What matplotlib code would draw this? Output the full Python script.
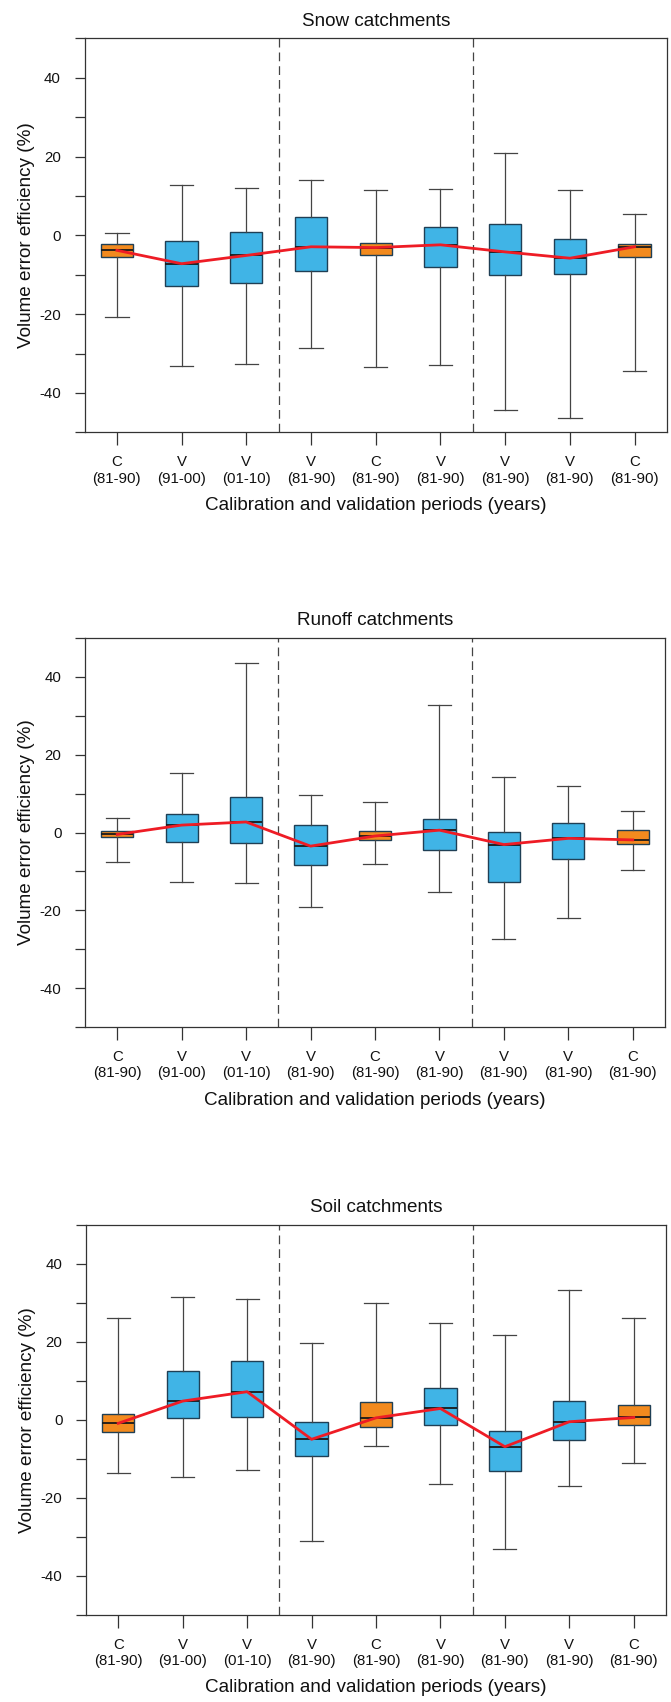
import matplotlib
matplotlib.use("Agg")
import matplotlib.pyplot as plt
from matplotlib.ticker import FuncFormatter

plt.rcParams["font.family"] = ["Liberation Sans", "DejaVu Sans"]

# x categories (C = calibration, V = validation)
kinds = ["C", "V", "V", "V", "C", "V", "V", "V", "C"]
periods = ["81-90", "91-00", "01-10", "81-90", "81-90", "81-90", "81-90", "81-90", "81-90"]
x_tick_labels = [f"{k}\n({p})" for k, p in zip(kinds, periods)]

# Snow catchments
snow_whislo = [-20.6, -33.1, -32.7, -28.5, -33.4, -32.9, -44.4, -46.4, -34.4]
snow_q1 = [-5.5, -12.9, -12.2, -9.1, -5.1, -8.0, -10.0, -9.8, -5.5]
snow_med = [-3.8, -7.2, -5.1, -2.9, -3.1, -2.4, -4.2, -5.8, -2.9]
snow_q3 = [-2.3, -1.5, 0.8, 4.7, -1.9, 2.2, 2.8, -0.9, -2.1]
snow_whishi = [0.6, 12.8, 11.9, 14.1, 11.6, 11.8, 20.9, 11.6, 5.3]

# Runoff catchments
runoff_whislo = [-7.5, -12.6, -13.0, -19.2, -8.1, -15.3, -27.3, -21.9, -9.6]
runoff_q1 = [-1.2, -2.4, -2.6, -8.4, -2.0, -4.5, -12.8, -6.7, -3.0]
runoff_med = [-0.5, 1.9, 2.7, -3.5, -0.9, 0.6, -3.1, -1.5, -1.9]
runoff_q3 = [0.4, 4.8, 9.2, 1.8, 0.4, 3.5, 0.1, 2.5, 0.7]
runoff_whishi = [3.8, 15.3, 43.5, 9.7, 7.9, 32.8, 14.3, 11.9, 5.6]

# Soil catchments
soil_whislo = [-13.6, -14.7, -12.8, -31.1, -6.8, -16.5, -33.0, -16.9, -11.0]
soil_q1 = [-3.2, 0.5, 0.6, -9.3, -1.8, -1.4, -13.0, -5.2, -1.4]
soil_med = [-0.9, 4.8, 7.2, -5.0, 0.5, 2.9, -6.9, -0.5, 0.6]
soil_q3 = [1.5, 12.5, 15.0, -0.5, 4.5, 8.2, -2.8, 4.8, 3.7]
soil_whishi = [26.2, 31.6, 30.9, 19.7, 30.0, 24.7, 21.8, 33.4, 26.2]

COLOR_C = "#F28A1E"
COLOR_V = "#40B4E6"
COLOR_LINE = "#EE1C25"
INK = "#333333"


def draw_panel(ax, title, whislo, q1, med, q3, whishi):
    positions = list(range(1, len(kinds) + 1))
    stats = []
    for i in range(len(kinds)):
        stats.append({"whislo": whislo[i], "q1": q1[i], "med": med[i],
                      "q3": q3[i], "whishi": whishi[i], "fliers": []})

    parts = ax.bxp(stats, positions=positions, widths=0.5, capwidths=0.36,
                   patch_artist=True, showfliers=False,
                   boxprops=dict(edgecolor="#1f3f55", linewidth=1.0),
                   medianprops=dict(color="#1a1a1a", linewidth=1.3),
                   whiskerprops=dict(color="#444444", linewidth=0.9),
                   capprops=dict(color="#444444", linewidth=0.9))
    for box, k in zip(parts["boxes"], kinds):
        box.set_facecolor(COLOR_C if k == "C" else COLOR_V)

    # red line through the medians
    ax.plot(positions, med, color=COLOR_LINE, linewidth=2.0, zorder=5)

    for xv in (3.5, 6.5):
        ax.axvline(xv, color="#444444", linewidth=0.9, linestyle=(0, (7, 4)))

    ax.set_xlim(0.5, 9.5)
    ax.set_ylim(-50, 50)
    ax.set_yticks(range(-50, 51, 10))
    ax.yaxis.set_major_formatter(FuncFormatter(lambda v, _: f"{int(v)}" if int(v) % 20 == 0 and abs(v) < 50 else ""))
    ax.set_xticks(positions)
    ax.set_xticklabels(x_tick_labels, fontsize=10.8)
    ax.tick_params(axis="y", length=7, width=0.9, pad=10, labelsize=10.8, colors=INK, labelcolor="#111111")
    ax.tick_params(axis="x", length=9.5, width=0.9, pad=7, colors=INK, labelcolor="#111111")
    for sp in ax.spines.values():
        sp.set_color(INK)
        sp.set_linewidth(0.9)

    ax.set_title(title, fontsize=13.6, pad=9, color="#111111")
    ax.set_xlabel("Calibration and validation periods (years)", fontsize=13.6, labelpad=8, color="#111111")
    ax.set_ylabel("Volume error efficiency (%)", fontsize=13.6, labelpad=3, color="#111111")


fig = plt.figure(figsize=(6.71, 17.02), dpi=100)
W, H = 671.0, 1702.0
rects = [(84.5, 38.3, 667, 432.4), (85, 637.7, 665, 1027.3), (86, 1224.8, 666, 1614.8)]
titles = ["Snow catchments", "Runoff catchments", "Soil catchments"]
data = [
    (snow_whislo, snow_q1, snow_med, snow_q3, snow_whishi),
    (runoff_whislo, runoff_q1, runoff_med, runoff_q3, runoff_whishi),
    (soil_whislo, soil_q1, soil_med, soil_q3, soil_whishi),
]

for (l, t, r, b), title, d in zip(rects, titles, data):
    ax = fig.add_axes([l / W, 1 - b / H, (r - l) / W, (b - t) / H])
    draw_panel(ax, title, *d)

fig.savefig("out.png", dpi=100)
